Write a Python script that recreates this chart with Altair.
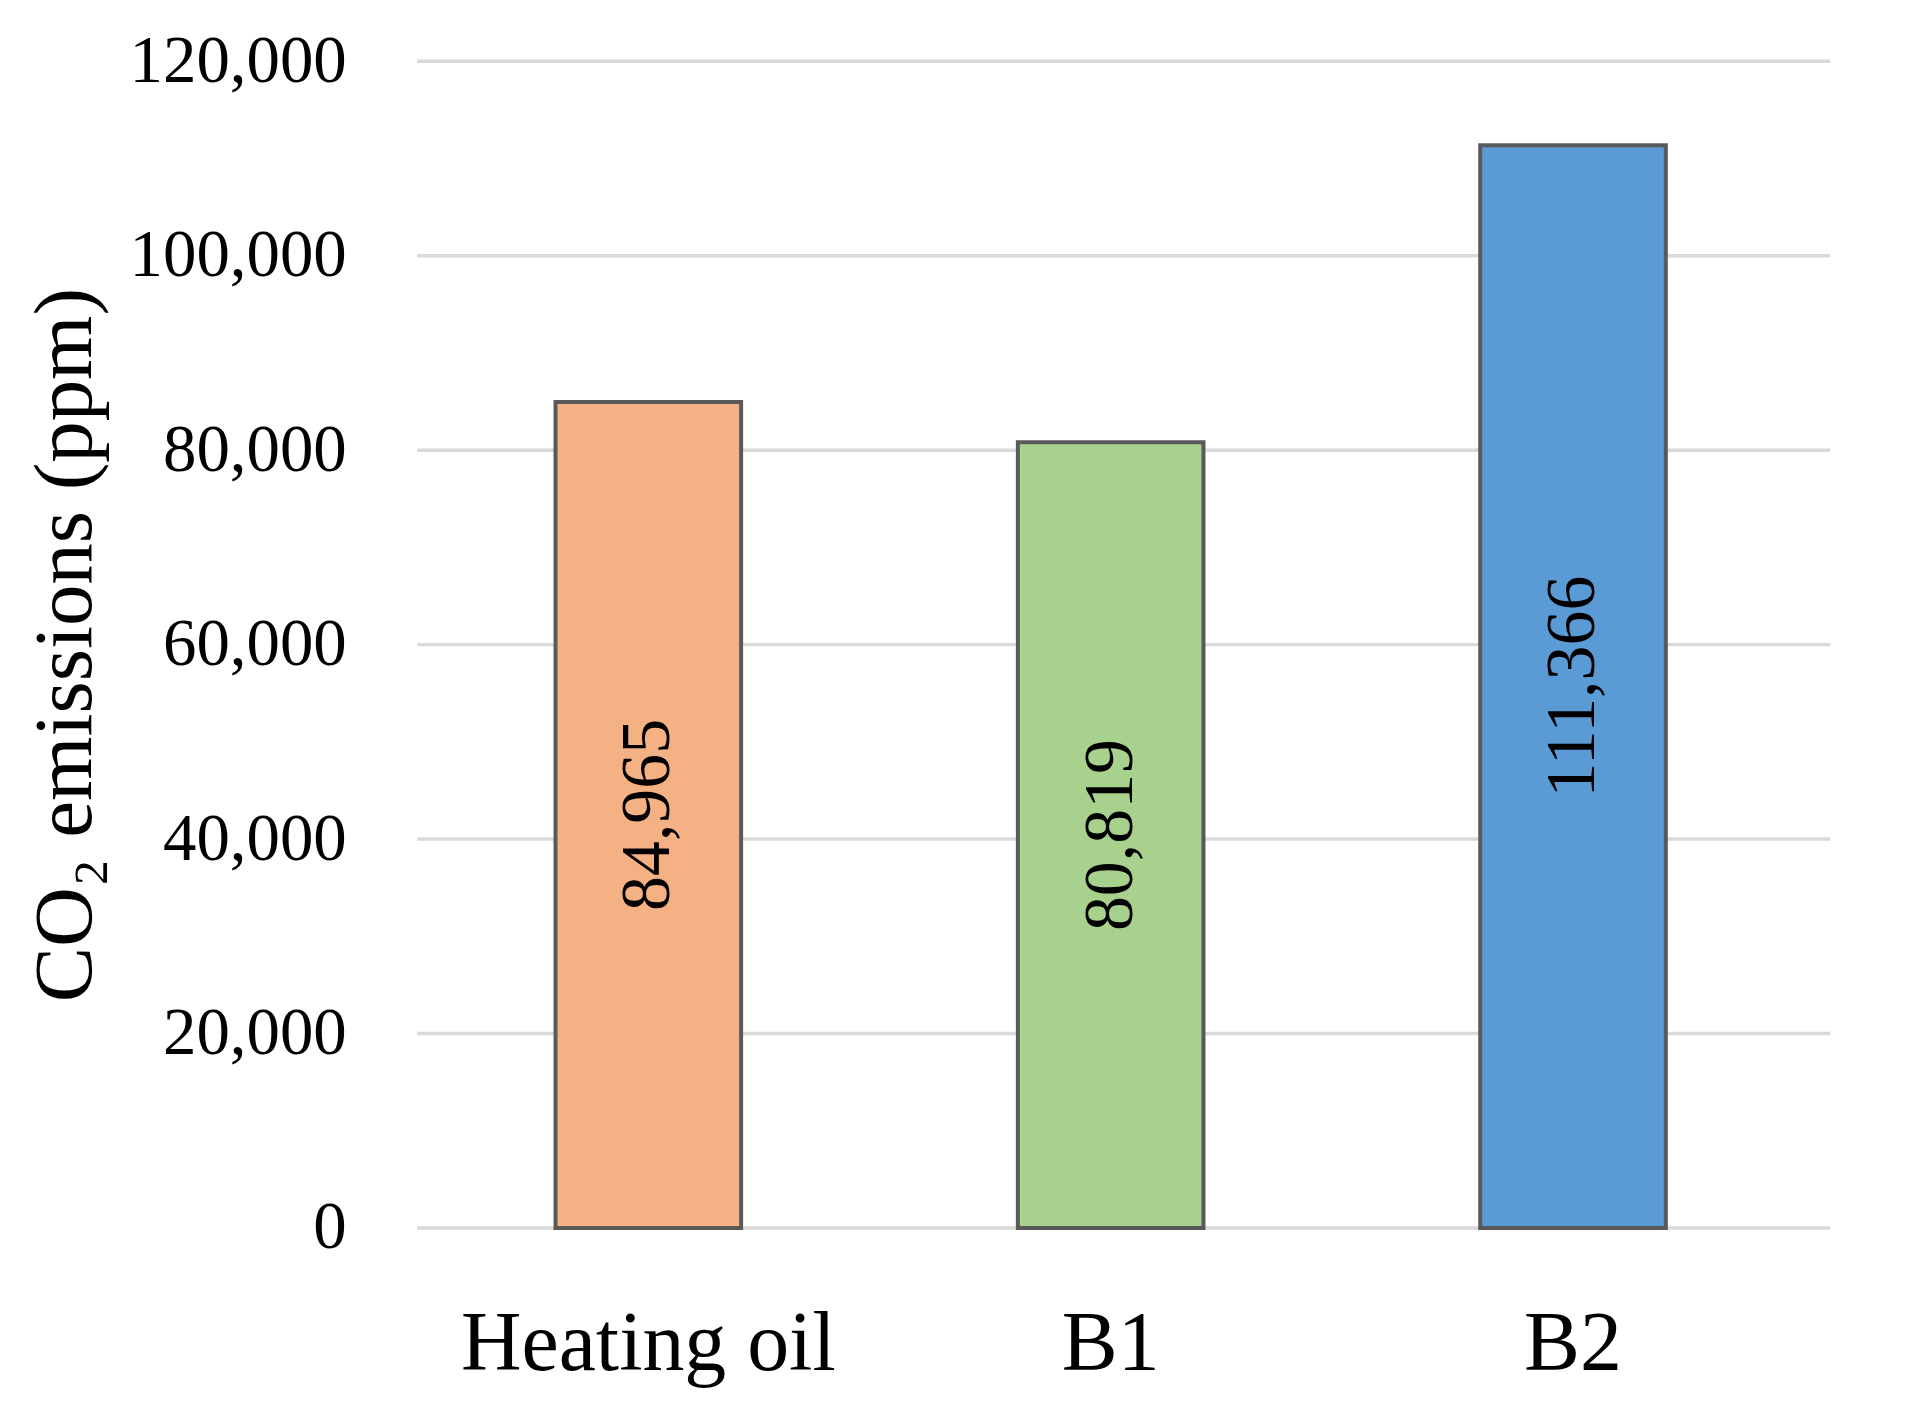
import altair as alt
import pandas as pd

categories = ["Heating oil", "B1", "B2"]
values = [84965, 80819, 111366]
value_labels = ["84,965", "80,819", "111,366"]
colors = ["#F4B183", "#A9D18E", "#5B9BD5"]
grid_values = [0, 20000, 40000, 60000, 80000, 100000, 120000]

df = pd.DataFrame({"cat": categories, "val": values, "label": value_labels, "color": colors})
grid_df = pd.DataFrame({"g": grid_values})

W = 1390
H = 1169
FONT = "Liberation Serif"

yscale = alt.Scale(domain=[0, 120000], nice=False)
xscale = alt.Scale(domain=categories, paddingInner=0.597, paddingOuter=0.2985)

yaxis = alt.Axis(title="CO₂ emissions (ppm)", values=grid_values, format=",.0f", grid=False,
                 domain=False, ticks=False, labelFont=FONT, labelFontSize=67, labelColor="#000",
                 labelPadding=71, labelLimit=0, titleFont=FONT, titleFontSize=83,
                 titleFontWeight="normal", titleColor="#000", titleBaseline="alphabetic",
                 titleX=-327, titleY=H / 2, titleAngle=270, titleAlign="center")
xaxis = alt.Axis(title=None, labelAngle=0, domain=False, ticks=False, grid=False,
                 labelFont=FONT, labelFontSize=84, labelColor="#000", labelPadding=76,
                 labelLimit=0)

grid = alt.Chart(grid_df).mark_rule(color="#d9d9d9", strokeWidth=3.5).encode(
    y=alt.Y("g:Q", scale=yscale, axis=yaxis),
    x=alt.value(0),
    x2=alt.value(1416),
)

bars = alt.Chart(df).mark_bar(stroke="#595959", strokeWidth=4, size=186).encode(
    x=alt.X("cat:N", scale=xscale, sort=categories, axis=xaxis),
    y=alt.Y("val:Q", scale=yscale, axis=yaxis),
    color=alt.Color("color:N", scale=None),
)

text = alt.Chart(df).transform_calculate(mid="datum.val/2").mark_text(
    angle=270, font=FONT, fontSize=70, color="#000", baseline="middle", align="center"
).encode(
    x=alt.X("cat:N", scale=xscale, sort=categories, axis=xaxis),
    y=alt.Y("mid:Q", scale=yscale, axis=yaxis),
    text="label:N",
)

chart = alt.layer(grid, bars, text).properties(
    width=W, height=H,
    autosize=alt.AutoSizeParams(type="none"),
    padding={"left": 410, "top": 52, "right": 96, "bottom": 170},
    background="white",
).configure_view(stroke=None)

chart.save("out.html", embed_options={"renderer": "svg", "actions": False})
